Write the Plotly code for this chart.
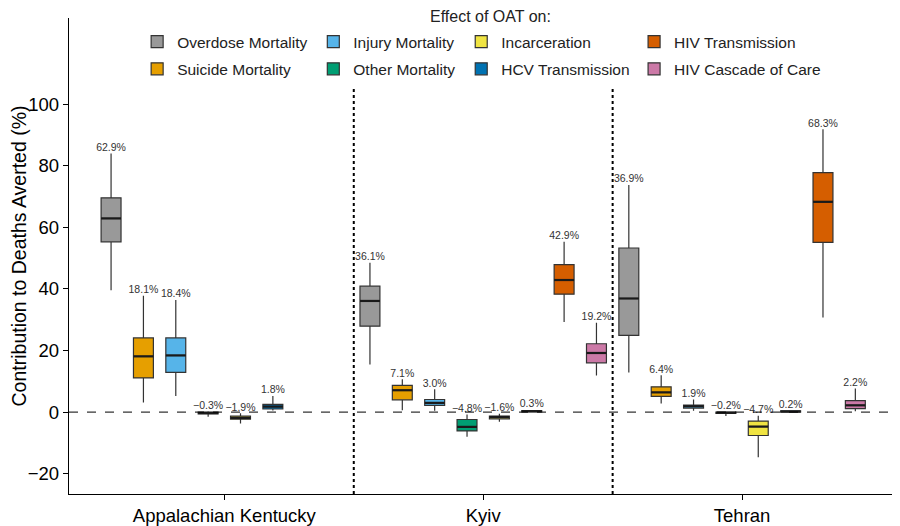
import plotly.graph_objects as go

# groups on the x axis
settings = ['Appalachian Kentucky', 'Kyiv', 'Tehran']

# series (dodge order inside each group)
effects = ['Overdose Mortality', 'Suicide Mortality', 'Injury Mortality', 'Other Mortality',
           'Incarceration', 'HCV Transmission', 'HIV Transmission', 'HIV Cascade of Care']
colors = ['#999999', '#E69F00', '#56B4E9', '#009E73',
          '#F0E442', '#0072B2', '#D55E00', '#CC79A7']
# legend fills column-wise in the original (2 rows x 4 columns)
legend_col = [1, 1, 2, 2, 3, 3, 4, 4]

# box statistics per series, one value per setting (None = not modelled)
medians = {
    'Overdose Mortality':   [62.9, 36.1, 36.9],
    'Suicide Mortality':    [18.1, 7.1, 6.4],
    'Injury Mortality':     [18.4, 3.0, 1.9],
    'Other Mortality':      [-0.3, -4.8, -0.2],
    'Incarceration':        [-1.9, -1.6, -4.7],
    'HCV Transmission':     [1.8, 0.3, 0.2],
    'HIV Transmission':     [None, 42.9, 68.3],
    'HIV Cascade of Care':  [None, 19.2, 2.2],
}
q1 = {
    'Overdose Mortality':   [55.3, 27.9, 24.9],
    'Suicide Mortality':    [11.1, 4.0, 5.1],
    'Injury Mortality':     [12.9, 2.2, 1.3],
    'Other Mortality':      [-0.6, -6.1, -0.4],
    'Incarceration':        [-2.3, -2.2, -7.6],
    'HCV Transmission':     [1.0, 0.1, 0.0],
    'HIV Transmission':     [None, 38.3, 55.1],
    'HIV Cascade of Care':  [None, 16.0, 1.1],
}
q3 = {
    'Overdose Mortality':   [69.6, 40.9, 53.3],
    'Suicide Mortality':    [24.1, 8.7, 8.2],
    'Injury Mortality':     [24.1, 4.1, 2.3],
    'Other Mortality':      [0.0, -2.4, 0.0],
    'Incarceration':        [-1.3, -1.3, -2.9],
    'HCV Transmission':     [2.5, 0.5, 0.4],
    'HIV Transmission':     [None, 47.9, 77.8],
    'HIV Cascade of Care':  [None, 22.2, 3.7],
}
lower = {
    'Overdose Mortality':   [39.6, 15.5, 12.9],
    'Suicide Mortality':    [3.1, 0.6, 2.8],
    'Injury Mortality':     [5.2, 0.4, 0.4],
    'Other Mortality':      [-1.5, -8.0, -1.3],
    'Incarceration':        [-3.7, -3.1, -14.7],
    'HCV Transmission':     [0.5, 0.0, -0.1],
    'HIV Transmission':     [None, 29.3, 30.7],
    'HIV Cascade of Care':  [None, 11.9, 0.3],
}
upper = {
    'Overdose Mortality':   [84.0, 48.5, 73.8],
    'Suicide Mortality':    [37.8, 10.7, 12.0],
    'Injury Mortality':     [36.4, 7.4, 4.1],
    'Other Mortality':      [0.3, -0.8, 0.2],
    'Incarceration':        [-0.4, -0.5, -1.2],
    'HCV Transmission':     [5.2, 0.7, 0.6],
    'HIV Transmission':     [None, 55.3, 91.9],
    'HIV Cascade of Care':  [None, 29.0, 7.7],
}

n = len(effects)
slot = 1.0 / n
box_w = 0.077


def pct(v):
    return ('%.1f%%' % v).replace('-', '\u2212')


fig = go.Figure()

for k, eff in enumerate(effects):
    idx = [i for i in range(len(settings)) if medians[eff][i] is not None]
    xs = [i + (k - (n - 1) / 2) * slot for i in idx]
    meds = [medians[eff][i] for i in idx]
    leg = 'legend' if legend_col[k] == 1 else 'legend%d' % legend_col[k]
    fig.add_trace(go.Box(
        name=eff,
        x=xs,
        q1=[q1[eff][i] for i in idx],
        median=meds,
        q3=[q3[eff][i] for i in idx],
        lowerfence=[lower[eff][i] for i in idx],
        upperfence=[upper[eff][i] for i in idx],
        orientation='v',
        width=box_w,
        whiskerwidth=0,
        fillcolor=colors[k],
        line=dict(color='#333333', width=1.2),
        legend=leg,
        legendgroup=eff,
        hoverinfo='skip',
    ))
    # heavier median bar, as in ggplot
    mx, my = [], []
    for x, m in zip(xs, meds):
        mx += [x - box_w / 2, x + box_w / 2, None]
        my += [m, m, None]
    fig.add_trace(go.Scatter(
        x=mx, y=my, mode='lines',
        line=dict(color='#1a1a1a', width=2.2),
        showlegend=False, hoverinfo='skip',
    ))
    # percentage label above each upper whisker
    fig.add_trace(go.Scatter(
        x=xs,
        y=[upper[eff][i] for i in idx],
        text=[pct(m) for m in meds],
        mode='text',
        textposition='top center',
        textfont=dict(size=10.5, color='#333333'),
        showlegend=False,
        hoverinfo='skip',
    ))

# zero reference line and setting separators
fig.add_hline(y=0, line=dict(color='black', width=1, dash='dash'))
for sep in [0.5, 1.5]:
    fig.add_shape(type='line', x0=sep, x1=sep, y0=-26.6, y1=105,
                  xref='x', yref='y', line=dict(color='black', width=2, dash='dot'))

# one small legend per column, placed inside the plot area (paper coords)
legend_style = dict(orientation='v', xref='paper', yref='paper',
                    xanchor='left', yanchor='top', y=0.985,
                    bgcolor='rgba(0,0,0,0)', font=dict(size=15.5, color='#222222'),
                    tracegroupgap=4, itemclick=False)
fig.update_layout(
    legend=dict(legend_style, x=0.082),
    legend2=dict(legend_style, x=0.294),
    legend3=dict(legend_style, x=0.472),
    legend4=dict(legend_style, x=0.680),
)

fig.add_annotation(text='Effect of OAT on:', xref='paper', yref='paper',
                   x=0.507, y=1.004, xanchor='center', yanchor='middle',
                   showarrow=False, font=dict(size=16, color='#222222'))

# page body keeps an 8px margin, so the figure is 8px smaller than the window
fig.update_layout(
    width=892,
    height=518,
    margin=dict(l=59, r=0, t=10, b=31),
    plot_bgcolor='white',
    paper_bgcolor='white',
    font=dict(family='Liberation Sans, Arial, sans-serif', color='black'),
    showlegend=True,
    xaxis=dict(
        range=[-0.6, 2.61],
        tickvals=list(range(len(settings))),
        ticktext=settings,
        showline=True, linecolor='black', linewidth=1.3,
        ticks='outside', ticklen=5, tickcolor='black',
        tickfont=dict(size=18.5, color='black'),
        showgrid=False, zeroline=False,
    ),
    yaxis=dict(
        range=[-26.6, 128],
        tickvals=[-20, 0, 20, 40, 60, 80, 100],
        ticktext=['\u221220', '0', '20', '40', '60', '80', '100'],
        showline=True, linecolor='black', linewidth=1.3,
        ticks='outside', ticklen=5, tickcolor='black',
        tickfont=dict(size=18.5, color='black'),
        title=dict(text='Contribution to Deaths Averted (%)', font=dict(size=19.5, color='black'),
                   standoff=6),
        showgrid=False, zeroline=False,
    ),
)

fig.write_html('out.html')
